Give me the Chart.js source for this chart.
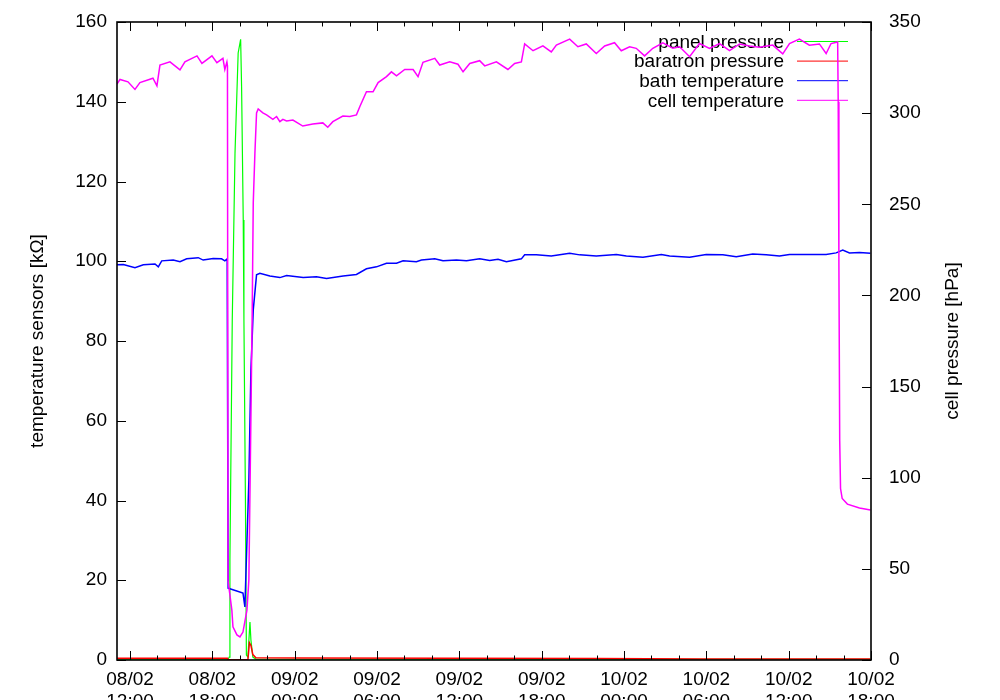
<!DOCTYPE html>
<html>
<head>
<meta charset="utf-8">
<script src="https://cdn.jsdelivr.net/npm/chart.js@4.4.1/dist/chart.umd.min.js"></script>
<style>
  html, body { margin: 0; padding: 0; background: #fff; }
  #wrap { width: 1000px; height: 700px; }
</style>
</head>
<body>
<div id="wrap"><canvas id="myChart" width="1000" height="700"></canvas></div>
<script>
// time is in hours from 08/02 00:00
const xMin = 11.05
const xMax = 66
const majorTicks = [12, 18, 24, 30, 36, 42, 48, 54, 60, 66]
const tickLabels = [
  ['08/02', '12:00'], ['08/02', '18:00'], ['09/02', '00:00'], ['09/02', '06:00'], ['09/02', '12:00'],
  ['09/02', '18:00'], ['10/02', '00:00'], ['10/02', '06:00'], ['10/02', '12:00'], ['10/02', '18:00']
]
const minorStep = 2

const seriesNames = ['panel pressure', 'baratron pressure', 'bath temperature', 'cell temperature']
const seriesColors = ['#00ff00', '#ff0000', '#0000ff', '#ff00ff']

// panel pressure [hPa]
const panelTime = [11.05, 19.15, 19.23, 19.28, 19.45, 19.65, 19.88, 20.06, 20.13, 20.25, 20.30, 20.41, 20.48, 20.59, 20.74, 20.81, 20.95, 21.17, 65.96]
const panelPress = [0.4, 0.4, 1.6, 54.8, 186.5, 278, 333, 340.5, 314.5, 241.4, 186.5, 87.8, 2.7, 1.6, 20.8, 11, 1.6, 0.5, 0.4]

// baratron pressure [hPa]
const baraTime = [11.05, 19.10, 19.15, 20.59, 20.70, 20.81, 20.95, 21.17, 24.3, 46, 53.5, 65.96]
const baraPress = [1.0, 1.0, 0.1, 0.1, 9.5, 8.0, 3.0, 1.2, 1.1, 0.8, 0.5, 0.6]

// bath temperature [kOhm]
const bathTime = [11.05, 11.51, 12.36, 12.97, 13.82, 14.06, 14.31, 15.15, 15.64, 16.13, 16.97, 17.33, 18.06, 18.67, 18.91, 19.08,
  19.15, 19.50, 20.23, 20.37, 20.66, 20.81, 20.98, 21.22, 21.46, 22.19, 22.92, 23.41, 24.62, 25.59, 26.32, 27.53, 28.50, 29.23,
  29.96, 30.69, 31.42, 31.90, 32.87, 33.24, 34.21, 34.81, 35.79, 36.52, 37.48, 38.21, 38.82, 39.43, 40.52, 40.76, 41.61, 42.70,
  44.04, 44.77, 45.98, 47.44, 48.17, 49.38, 50.72, 51.32, 52.78, 53.99, 55.20, 56.18, 57.38, 58.36, 59.33, 60.06, 61.51, 62.73,
  63.46, 63.94, 64.43, 65.16, 65.96]
const bathTemp = [99.1, 99.2, 98.4, 99.1, 99.3, 98.6, 100.1, 100.3, 99.9, 100.6, 100.9, 100.3, 100.7, 100.6, 100.1, 100.6,
  18.0, 17.6, 16.8, 13.3, 45.1, 72.7, 87.8, 96.6, 97.0, 96.3, 95.9, 96.4, 95.9, 96.1, 95.7, 96.3, 96.7, 98.1,
  98.6, 99.5, 99.5, 100.1, 99.9, 100.3, 100.6, 100.1, 100.3, 100.1, 100.6, 100.2, 100.5, 99.9, 100.6, 101.6, 101.6, 101.3,
  102.0, 101.6, 101.3, 101.7, 101.3, 101.0, 101.7, 101.3, 101.0, 101.7, 101.6, 101.1, 101.8, 101.6, 101.3, 101.7, 101.7, 101.7,
  102.1, 102.8, 102.1, 102.2, 102.0]

// cell temperature [kOhm]
const cellTime = [11.05, 11.27, 11.85, 12.36, 12.72, 13.67, 13.96, 14.18, 14.91, 15.64, 16.00, 16.88, 17.24, 17.97, 18.33, 18.77,
  18.91, 19.06, 19.10, 19.14, 19.42, 19.50, 19.79, 20.01, 20.23, 20.52, 20.66, 20.90, 20.98, 21.10, 21.22, 21.34, 21.68, 21.95,
  22.41, 22.68, 22.92, 23.14, 23.41, 23.87, 24.59, 25.32, 26.05, 26.41, 26.78, 27.51, 28.02, 28.50, 28.75, 29.23, 29.71, 30.08,
  30.69, 31.05, 31.42, 32.02, 32.63, 32.99, 33.35, 34.21, 34.57, 35.30, 35.90, 36.27, 36.76, 37.48, 37.85, 38.70, 39.54, 40.03,
  40.52, 40.76, 41.37, 42.09, 42.70, 43.07, 44.04, 44.64, 45.25, 45.98, 46.59, 47.31, 47.80, 48.41, 48.89, 49.50, 50.10, 50.83,
  51.56, 52.05, 52.78, 53.50, 54.23, 54.96, 55.69, 56.42, 57.15, 57.88, 58.84, 59.57, 60.06, 60.78, 61.51, 62.24, 62.73, 63.09,
  63.57, 63.61, 63.66, 63.72, 63.78, 63.90, 64.28, 65.16, 65.96]
const cellTemp = [144.4, 145.6, 145.0, 143.1, 144.8, 145.9, 144.0, 149.2, 150.0, 148.0, 150.0, 151.5, 149.6, 151.5, 149.8, 150.9,
  148.1, 150.0, 149.0, 20.0, 12.5, 8.3, 6.3, 5.8, 7.0, 12.5, 20.1, 86.0, 114.6, 127.1, 137.2, 138.2, 137.2, 136.7,
  135.6, 136.3, 135.0, 135.6, 135.2, 135.4, 133.9, 134.4, 134.7, 133.6, 135.0, 136.4, 136.3, 136.7, 138.8, 142.5, 142.5, 144.8,
  146.3, 147.5, 146.5, 148.1, 148.1, 146.3, 149.9, 150.9, 149.2, 150.0, 149.4, 147.5, 149.6, 150.3, 149.0, 150.0, 148.1, 149.6,
  150.0, 154.5, 152.8, 154.0, 152.5, 154.2, 155.7, 153.8, 154.5, 152.1, 154.0, 154.8, 152.8, 153.8, 153.4, 151.5, 153.4, 154.8,
  153.4, 153.8, 151.3, 154.6, 153.4, 154.6, 152.8, 154.5, 154.0, 153.7, 154.2, 152.0, 154.6, 155.7, 154.2, 154.5, 152.1, 154.6,
  155.0, 140.0, 100.0, 55.0, 43.0, 40.5, 39.1, 38.1, 37.6]

const FONT = '"Liberation Sans", Arial, Helvetica, sans-serif'

function pts(xs, ys) {
  return xs.map((x, i) => ({x: x, y: ys[i]}))
}

// gnuplot like frame: box, inward ticks, key and axis titles
const gnuFrame = {
  id: 'gnuFrame',
  beforeDatasetsDraw(chart) {
    const {ctx, chartArea: a} = chart
    ctx.save()
    ctx.font = '19px ' + FONT
    ctx.textAlign = 'right'
    ctx.textBaseline = 'middle'
    for (let i = 0; i < seriesNames.length; i++) {
      const y = a.top + 19.5 + i * 19.6
      ctx.fillStyle = '#000'
      ctx.fillText(seriesNames[i], a.right - 87, y + 1)
      ctx.strokeStyle = seriesColors[i]
      ctx.lineWidth = 1
      ctx.beginPath()
      ctx.moveTo(a.right - 74, y)
      ctx.lineTo(a.right - 23, y)
      ctx.stroke()
    }
    ctx.restore()
  },
  afterDatasetsDraw(chart) {
    const {ctx, chartArea: a, scales} = chart
    ctx.save()
    ctx.strokeStyle = '#000'
    ctx.lineWidth = 1
    ctx.beginPath()
    for (let h = majorTicks[0]; h <= xMax; h += minorStep) {
      const px = Math.round(scales.x.getPixelForValue(h)) + 0.5
      const len = majorTicks.includes(h) ? 9 : 4.5
      ctx.moveTo(px, a.bottom); ctx.lineTo(px, a.bottom - len)
      ctx.moveTo(px, a.top); ctx.lineTo(px, a.top + len)
    }
    scales.y.ticks.forEach(t => {
      const py = Math.round(scales.y.getPixelForValue(t.value)) + 0.5
      ctx.moveTo(a.left, py); ctx.lineTo(a.left + 9, py)
    })
    scales.y2.ticks.forEach(t => {
      const py = Math.round(scales.y2.getPixelForValue(t.value)) + 0.5
      ctx.moveTo(a.right, py); ctx.lineTo(a.right - 9, py)
    })
    ctx.stroke()
    ctx.lineWidth = 1.6
    ctx.strokeRect(a.left, a.top, a.right - a.left, a.bottom - a.top)

    // axis titles, both read bottom to top
    ctx.fillStyle = '#000'
    ctx.font = '19px ' + FONT
    ctx.textAlign = 'center'
    ctx.textBaseline = 'middle'
    const cy = (a.top + a.bottom) / 2
    ctx.translate(38, cy)
    ctx.rotate(-Math.PI / 2)
    ctx.fillText('temperature sensors [kΩ]', 0, 0)
    ctx.rotate(Math.PI / 2)
    ctx.translate(953 - 38, 0)
    ctx.rotate(-Math.PI / 2)
    ctx.fillText('cell pressure [hPa]', 0, 0)
    ctx.restore()
  }
}

Chart.defaults.color = '#000'
Chart.defaults.font.family = FONT
Chart.defaults.font.size = 19

function fixY(width) {
  return s => {
    s.width = width
    s.paddingTop = 0
    s.paddingBottom = 0
  }
}

const ctx = document.getElementById('myChart')
const myChart = new Chart(ctx, {
  type: 'line',
  data: {
    datasets: [
      {label: seriesNames[0], data: pts(panelTime, panelPress), yAxisID: 'y2', order: 4,
        borderColor: seriesColors[0], backgroundColor: seriesColors[0]},
      {label: seriesNames[1], data: pts(baraTime, baraPress), yAxisID: 'y2', order: 3,
        borderColor: seriesColors[1], backgroundColor: seriesColors[1], borderWidth: 1.5},
      {label: seriesNames[2], data: pts(bathTime, bathTemp), yAxisID: 'y', order: 2,
        borderColor: seriesColors[2], backgroundColor: seriesColors[2], borderWidth: 1.5},
      {label: seriesNames[3], data: pts(cellTime, cellTemp), yAxisID: 'y', order: 1,
        borderColor: seriesColors[3], backgroundColor: seriesColors[3], borderWidth: 1.5}
    ]
  },
  options: {
    responsive: false,
    animation: false,
    layout: {padding: {top: 22, left: 0, right: 0, bottom: 0}},
    elements: {
      point: {radius: 0},
      line: {borderWidth: 1.2, tension: 0}
    },
    plugins: {
      legend: {display: false},
      tooltip: {enabled: false}
    },
    scales: {
      x: {
        type: 'linear',
        min: xMin,
        max: xMax,
        grid: {display: false, drawTicks: false},
        border: {display: false},
        afterBuildTicks: s => { s.ticks = majorTicks.map(v => ({value: v})) },
        afterFit: s => { s.height = 40 },
        ticks: {
          autoSkip: false,
          maxRotation: 0,
          padding: 8,
          callback: (v, i) => tickLabels[i]
        }
      },
      y: {
        position: 'left',
        min: 0,
        max: 160,
        grid: {display: false, drawTicks: false},
        border: {display: false},
        afterFit: fixY(117),
        ticks: {stepSize: 20, padding: 10}
      },
      y2: {
        position: 'right',
        min: 0,
        max: 350,
        grid: {display: false, drawTicks: false},
        border: {display: false},
        afterFit: fixY(129),
        ticks: {stepSize: 50, padding: 18}
      }
    }
  },
  plugins: [gnuFrame]
})
</script>
</body>
</html>
